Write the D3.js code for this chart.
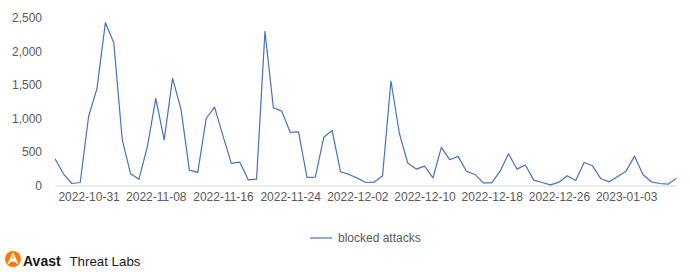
<!DOCTYPE html>
<html>
<head>
<meta charset="utf-8">
<script src="https://cdn.jsdelivr.net/npm/d3@7"></script>
<style>
  html, body { margin: 0; padding: 0; background: #fff; }
  svg { display: block; font-family: "Liberation Sans", Arial, sans-serif; }
</style>
</head>
<body>
<svg id="chart" width="690" height="272"></svg>
<script>
// ---- data ----
const startDate = "2022-10-27";
const endDate = "2023-01-10"; // exclusive
const seriesName = "blocked attacks";
const blockedAttacks = [
  400, 175, 30, 45, 1030, 1450, 2430, 2130, 690, 175,
  95, 580, 1300, 680, 1600, 1140, 230, 195, 1000, 1170,
  740, 330, 350, 85, 95, 2300, 1160, 1110, 795, 800,
  120, 125, 720, 820, 205, 165, 110, 45, 50, 145,
  1560, 780, 335, 245, 290, 115, 570, 385, 435, 210,
  165, 40, 40, 214, 475, 245, 305, 80, 45, 10,
  50, 145, 75, 344, 294, 100, 55, 135, 214, 438,
  164, 55, 30, 20, 110
];
const xTickLabels = ["2022-10-31","2022-11-08","2022-11-16","2022-11-24","2022-12-02","2022-12-10","2022-12-18","2022-12-26","2023-01-03"];
const yTickValues = [0, 500, 1000, 1500, 2000, 2500];

// categories: one per day
const fmt = d3.utcFormat("%Y-%m-%d");
const categories = d3.utcDay.range(new Date(startDate + "T00:00:00Z"), new Date(endDate + "T00:00:00Z")).map(fmt);
const data = categories.map((c, i) => ({ date: c, value: blockedAttacks[i] }));

// ---- layout ----
const svg = d3.select("#chart");
const x = d3.scalePoint().domain(categories).range([55, 676.5]);
const y = d3.scaleLinear().domain([0, 2500]).range([185.5, 18]);

const textColor = "#595959";

// y axis
const yAxis = svg.append("g")
  .attr("transform", "translate(42,0)")
  .call(d3.axisLeft(y).tickValues(yTickValues).tickSize(0).tickPadding(0).tickFormat(d3.format(",")));
yAxis.select(".domain").remove();
yAxis.selectAll("text").attr("fill", textColor).attr("font-size", 12).attr("font-family", "Liberation Sans, Arial, sans-serif");

// x axis
const xAxis = svg.append("g")
  .attr("transform", `translate(0,${y(0)})`)
  .call(d3.axisBottom(x).tickValues(xTickLabels).tickSize(0).tickPadding(7));
xAxis.select(".domain").attr("stroke", "#d9d9d9").attr("stroke-width", 1.2);
xAxis.selectAll("text").attr("fill", textColor).attr("font-size", 12).attr("font-family", "Liberation Sans, Arial, sans-serif");

// line
const line = d3.line().x(d => x(d.date)).y(d => y(d.value));
svg.append("path")
  .datum(data)
  .attr("fill", "none")
  .attr("stroke", "#4472C4")
  .attr("stroke-width", 1.2)
  .attr("stroke-linejoin", "round")
  .attr("d", line);

// legend
const lg = svg.append("g").attr("transform", "translate(310,238)");
lg.append("line").attr("x1", 0).attr("x2", 22).attr("y1", 0).attr("y2", 0)
  .attr("stroke", "#4472C4").attr("stroke-width", 1.2);
lg.append("text").attr("x", 28).attr("y", 4.3).attr("font-size", 12).attr("fill", textColor).text(seriesName);

// branding
const logo = svg.append("g").attr("transform", "translate(13,259)");
logo.append("circle").attr("r", 8).attr("fill", "#FF7800");
logo.append("path")
  .attr("d", "M-4.5,4.5 L0,-5 L4.5,4.5 M-2.8,1 Q0,-1 2.8,1 M-3.6,2.8 Q0,0.6 3.6,2.8")
  .attr("fill", "none").attr("stroke", "#fff").attr("stroke-width", 1.6).attr("stroke-linecap", "round");
svg.append("text").attr("x", 23).attr("y", 265.5).attr("font-size", 14).attr("font-weight", "bold")
  .attr("fill", "#1a1a1a").text("Avast");
svg.append("text").attr("x", 69.5).attr("y", 265.5).attr("font-size", 13.3)
  .attr("fill", "#1a1a1a").text("Threat Labs");
</script>
</body>
</html>
